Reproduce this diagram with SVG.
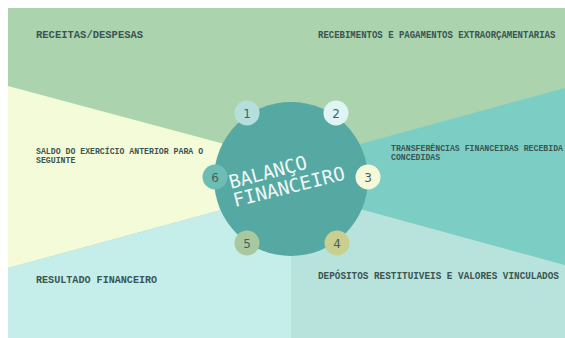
<svg xmlns="http://www.w3.org/2000/svg" width="565" height="338" viewBox="0 0 565 338">
<style>
.lbl{font-family:"Liberation Mono","DejaVu Sans Mono",monospace;font-weight:bold;fill:#3b5552}
.num{font-family:"DejaVu Sans","Liberation Sans",sans-serif;font-size:12px;fill:#4b5e5b;text-anchor:middle}
.title{font-family:"DejaVu Sans Mono","Liberation Mono",monospace;font-size:19px;fill:#eef8f6}
.badge{stroke:none}
</style>
<rect x="0" y="0" width="565" height="338" fill="#ffffff"/>
<g id="regions">
<rect id="region-1" x="8" y="8" width="557" height="330" fill="#abd3ae"/>
<polygon id="region-6" points="8,86 291,162 291,191 8,268" fill="#f3fbd8"/>
<polygon id="region-5" points="8,268 291,191 291,338 8,338" fill="#c5eeea"/>
<polygon id="region-4" points="291,190 565,265 565,338 291,338" fill="#b8e3dd"/>
<polygon id="region-3" points="291,163 565,88 565,265 291,190" fill="#7ccec5"/>
</g>
<g id="labels">
<text class="lbl" x="36" y="38" font-size="10.5">RECEITAS/DESPESAS</text>
<text class="lbl" transform="translate(318,38) scale(1,1.15)" font-size="9">RECEBIMENTOS E PAGAMENTOS EXTRAORÇAMENTARIAS</text>
<text class="lbl" x="36" y="154" font-size="8.2">SALDO DO EXERCÍCIO ANTERIOR PARA O</text>
<text class="lbl" x="36" y="163" font-size="8.2">SEGUINTE</text>
<text class="lbl" x="391" y="151" font-size="8.2">TRANSFERÊNCIAS FINANCEIRAS RECEBIDA</text>
<text class="lbl" x="391" y="160" font-size="8.2">CONCEDIDAS</text>
<text class="lbl" x="36" y="283" font-size="10.1">RESULTADO FINANCEIRO</text>
<text class="lbl" transform="translate(318,279) scale(1,1.1)" font-size="9.35">DEPÓSITOS RESTITUIVEIS E VALORES VINCULADOS</text>
</g>
<g id="center">
<circle cx="291" cy="179" r="77" fill="#56a9a2"/>
<text class="title" transform="translate(231,189) rotate(-15)">BALANÇO</text>
<text class="title" transform="translate(235,207) rotate(-14)">FINANCEIRO</text>
</g>
<g id="node-1"><circle class="badge" cx="247" cy="113" r="12.5" fill="#b5dfdc"/><text class="num" x="247" y="117.5">1</text></g>
<g id="node-2"><circle class="badge" cx="336" cy="113" r="12.5" fill="#def5f3"/><text class="num" x="336" y="117.5">2</text></g>
<g id="node-3"><circle class="badge" cx="368" cy="177" r="12.5" fill="#f5f9d9"/><text class="num" x="368" y="181.5">3</text></g>
<g id="node-4"><circle class="badge" cx="337" cy="243" r="12.5" fill="#c9cf8e"/><text class="num" x="337" y="247.5">4</text></g>
<g id="node-5"><circle class="badge" cx="247" cy="243" r="12.5" fill="#a9c8a0"/><text class="num" x="247" y="247.5">5</text></g>
<g id="node-6"><circle class="badge" cx="215" cy="177" r="12.5" fill="#6dbdb5"/><text class="num" x="215" y="181.5">6</text></g>
</svg>
